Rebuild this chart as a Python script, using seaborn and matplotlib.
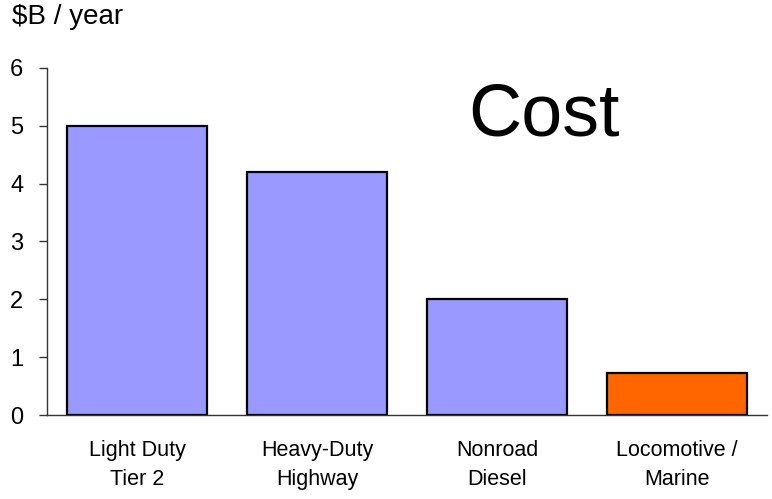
import matplotlib
matplotlib.use("Agg")
import matplotlib.pyplot as plt
import seaborn as sns
import pandas as pd

categories = ["Light Duty\nTier 2", "Heavy-Duty\nHighway", "Nonroad\nDiesel", "Locomotive /\nMarine"]
cost_values = [5.0, 4.2, 2.0, 0.73]
bar_colors = ["#9999FF", "#9999FF", "#9999FF", "#FF6600"]
y_ticks = [0, 1, 2, 3, 4, 5, 6]

sns.set_theme(style="white")
plt.rcParams["font.family"] = ["Liberation Sans", "DejaVu Sans"]

df = pd.DataFrame({"category": categories, "cost": cost_values})

fig = plt.figure(figsize=(7.72, 4.99), dpi=100)
ax = fig.add_axes([47 / 772, 84 / 499, 720 / 772, 347 / 499])

sns.barplot(data=df, x="category", y="cost", hue="category",
            palette=bar_colors, legend=False, width=0.78,
            edgecolor="black", linewidth=1.6, saturation=1, ax=ax)

ax.set_ylim(0, 6)
ax.set_xlim(-0.5, 3.5)
ax.set_yticks(y_ticks)
ax.set_yticklabels([str(t) for t in y_ticks], fontsize=17, color="black")
ax.set_xticks(range(len(categories)))
ax.set_xticklabels(categories, fontsize=15.5, color="black", linespacing=1.5)
ax.set_xlabel("")
ax.set_ylabel("")

for side in ["top", "right"]:
    ax.spines[side].set_visible(False)
for side in ["left", "bottom"]:
    ax.spines[side].set_color("#333333")
    ax.spines[side].set_linewidth(1.0)

ax.tick_params(axis="y", direction="out", length=6, width=1.0, color="#333333", pad=11, left=True)
ax.tick_params(axis="x", length=0, pad=18)

fig.text(12 / 772, 1 - 17 / 499, "$B / year", fontsize=20, va="center", ha="left", color="black")
ax.text(2.26, 5.17, "Cost", fontsize=53, ha="center", va="center", color="black")

fig.savefig("out.png", dpi=100, facecolor="white")
